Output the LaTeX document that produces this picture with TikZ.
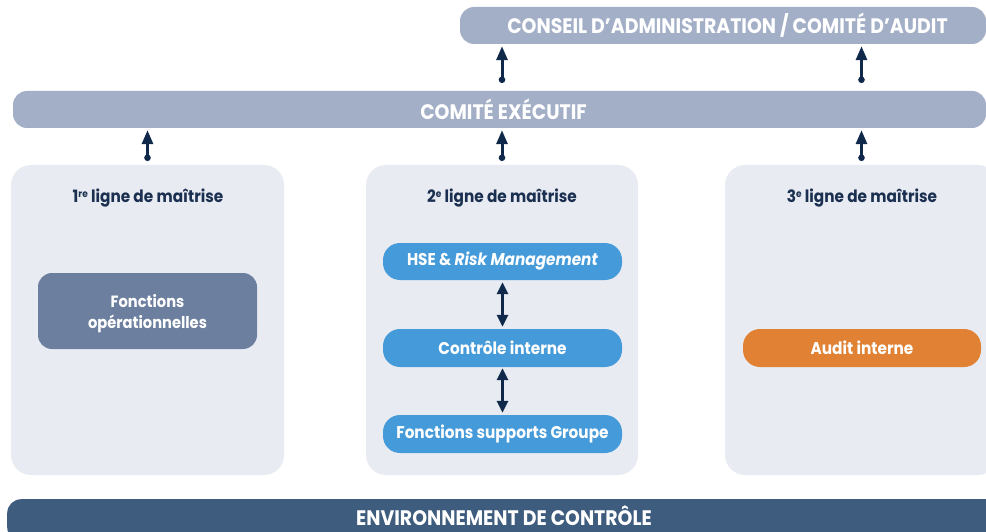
\documentclass[tikz,border=0pt]{standalone}
\usepackage{fontspec}
\setmainfont{Poppins}[FakeStretch=0.9]
\usetikzlibrary{arrows.meta}
\definecolor{barc}{HTML}{A3AFC7}
\definecolor{colbg}{HTML}{E8EBF2}
\definecolor{titlec}{HTML}{1B3050}
\definecolor{fopc}{HTML}{6C7F9E}
\definecolor{bluec}{HTML}{459AD9}
\definecolor{orangec}{HTML}{E08133}
\definecolor{envc}{HTML}{3E5C7E}
\definecolor{arrc}{HTML}{10294A}
\newcommand{\supr}[1]{\raisebox{0.6ex}{\fontsize{10}{10}\selectfont #1}}
\tikzset{
  topbar/.style={rectangle, rounded corners=14pt, fill=barc, text=white, font=\fontsize{21}{21}\selectfont\bfseries, inner sep=0pt},
  colbox/.style={rectangle, rounded corners=20pt, fill=colbg, inner sep=0pt},
  coltitle/.style={text=titlec, font=\fontsize{17}{17}\selectfont\bfseries, inner sep=0pt, anchor=base},
  pill/.style={rectangle, rounded corners=17pt, text=white, font=\fontsize{17}{17}\selectfont\bfseries, inner sep=0pt},
  uparr/.style={arrc, line width=3pt, -{Triangle[length=14pt,width=11pt]}},
  dblarr/.style={arrc, line width=3pt, {Triangle[length=12pt,width=11pt]}-{Triangle[length=12pt,width=11pt]}},
  dotc/.style={fill=arrc}
}
\begin{document}
\begin{tikzpicture}[x=1pt,y=-1pt]
\useasboundingbox (0,0) rectangle (986,532);
% top bars
\node[topbar, minimum width=526pt, minimum height=37pt] (conseil) at (723,25.5) {\hspace*{9pt}CONSEIL D’ADMINISTRATION / COMITÉ D’AUDIT};
\node[topbar, minimum width=973pt, minimum height=37pt] (exec) at (499.5,109.5) {\hspace*{8pt}COMITÉ EXÉCUTIF};
% column boxes
\node[colbox, minimum width=273pt, minimum height=310pt] (col1) at (147.5,320) {};
\node[colbox, minimum width=272pt, minimum height=310pt] (col2) at (502,320) {};
\node[colbox, minimum width=273pt, minimum height=310pt] (col3) at (861.5,320) {};
% titles
\node[coltitle] (t1) at (148,203) {1\supr{re} ligne de maîtrise};
\node[coltitle] (t2) at (502,203) {2\supr{e} ligne de maîtrise};
\node[coltitle] (t3) at (862,203) {3\supr{e} ligne de maîtrise};
% inner boxes
\node[pill, rounded corners=14pt, fill=fopc, minimum width=219pt, minimum height=76pt] (fop) at (147.5,311) {};
\node[text=white, inner sep=0pt, align=center, font=\fontsize{16.3}{16.3}\selectfont\bfseries, yshift=-2.5pt] (foptext) at (fop) {Fonctions\\[5pt]opérationnelles};
\node[pill, fill=bluec, minimum width=239pt, minimum height=37pt] (hse) at (502.5,261.5) {HSE \& \textit{Risk Management}};
\node[pill, fill=bluec, minimum width=239pt, minimum height=38pt] (ci) at (502.5,348) {Contrôle interne};
\node[pill, fill=bluec, minimum width=239pt, minimum height=38pt] (fsg) at (502.5,434) {Fonctions supports Groupe};
\node[pill, fill=orangec, minimum width=238pt, minimum height=38pt] (audit) at (862,348) {Audit interne};
% bottom bar
\node[topbar, fill=envc, minimum width=993pt, minimum height=42pt, anchor=north west] (env) at (7,499) {};
\node[text=white, font=\fontsize{21}{21}\selectfont\bfseries, inner sep=0pt, anchor=base] (envt) at (504,525) {ENVIRONNEMENT DE CONTRÔLE};
% arrows
\foreach \c in {col1,col2,col3}{
  \draw[uparr, shorten >=2pt] ([yshift=7pt]\c.north) coordinate (d\c) -- (\c.north |- exec.south);
  \fill[dotc] (d\c) circle (3.3pt);
}
\draw[uparr, shorten >=2pt] ([yshift=11pt]col2.north |- exec.north) coordinate (e2) -- (col2.north |- conseil.south);
\fill[dotc] (e2) circle (3.3pt);
\draw[uparr, shorten >=2pt] ([yshift=11pt]col3.north |- exec.north) coordinate (e3) -- (col3.north |- conseil.south);
\fill[dotc] (e3) circle (3.3pt);
\draw[dblarr, shorten <=2pt, shorten >=2pt] (hse.south) -- (ci.north);
\draw[dblarr, shorten <=1pt, shorten >=2pt] (ci.south) -- (fsg.north);
\end{tikzpicture}
\end{document}
